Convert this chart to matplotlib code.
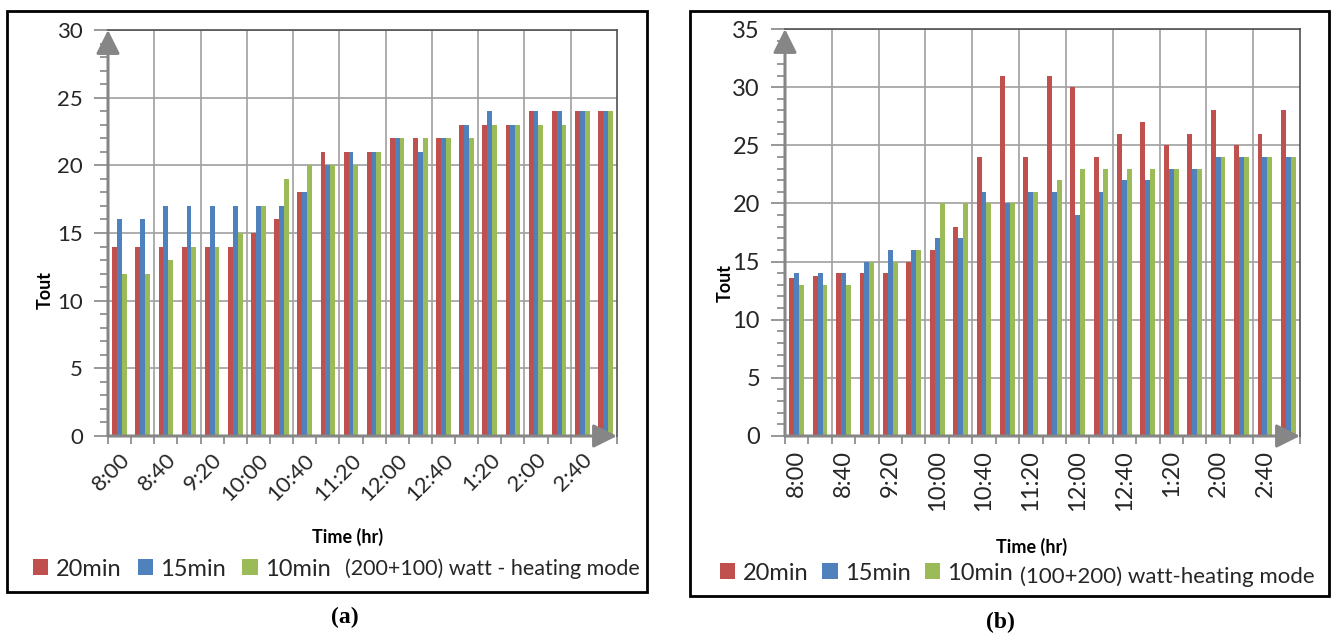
import numpy as np
import matplotlib
matplotlib.use('Agg')
from matplotlib import pyplot as plt
from matplotlib.patches import Rectangle

plt.rcParams['font.family'] = ['Lato', 'DejaVu Sans']

W, H = 1337, 633

times = ['8:00', '8:20', '8:40', '9:00', '9:20', '9:40', '10:00', '10:20',
         '10:40', '11:00', '11:20', '11:40', '12:00', '12:20', '12:40', '1:00',
         '1:20', '1:40', '2:00', '2:20', '2:40', '3:00']
series_names = ['20min', '15min', '10min']
colors = ['#C0504D', '#4F81BD', '#9BBB59']

# (a) (200+100) watt - heating mode
a_20 = [14, 14, 14, 14, 14, 14, 15, 16, 18, 21, 21, 21, 22, 22, 22, 23, 23, 23, 24, 24, 24, 24]
a_15 = [16, 16, 17, 17, 17, 17, 17, 17, 18, 20, 21, 21, 22, 21, 22, 23, 24, 23, 24, 24, 24, 24]
a_10 = [12, 12, 13, 14, 14, 15, 17, 19, 20, 20, 20, 21, 22, 22, 22, 22, 23, 23, 23, 23, 24, 24]

# (b) (100+200) watt-heating mode
b_20 = [13.6, 13.8, 14, 14, 14, 15, 16, 18, 24, 31, 24, 31, 30, 24, 26, 27, 25, 26, 28, 25, 26, 28]
b_15 = [14, 14, 14, 15, 16, 16, 17, 17, 21, 20, 21, 21, 19, 21, 22, 22, 23, 23, 24, 24, 24, 24]
b_10 = [13, 13, 13, 15, 15, 16, 20, 20, 20, 20, 21, 22, 23, 23, 23, 23, 23, 23, 24, 24, 24, 24]

AXIS_GRAY = '#868686'
GRID_GRAY = '#A0A0A0'
TXT = '#262626'


def px_axes(x0, y0, x1, y1):
    return [x0 / W, (H - y1) / H, (x1 - x0) / W, (y1 - y0) / H]


def draw_panel(ax, data, ymax, rot, fs):
    x = np.arange(len(times))
    w = 0.21
    for i, (vals, c, name) in enumerate(zip(data, colors, series_names)):
        ax.bar(x + (i - 1) * w, vals, w, color=c, label=name, zorder=3)
    ax.set_xlim(-0.5, len(times) - 0.5)
    ax.set_ylim(0, ymax)
    ax.set_yticks(np.arange(0, ymax + 1, 5))
    ax.set_yticks(np.arange(0, ymax + 1, 1), minor=True)
    ax.tick_params(axis='y', which='major', length=10, width=1.2, color=AXIS_GRAY,
                   labelsize=fs, labelcolor=TXT, pad=8)
    ax.tick_params(axis='y', which='minor', length=6, width=1.2, color=AXIS_GRAY)
    ax.set_xticks(x[::2])
    if rot == 45:
        ax.set_xticklabels(times[::2], rotation=45, ha='right', va='top',
                           rotation_mode='anchor')
    else:
        ax.set_xticklabels(times[::2], rotation=90, ha='center', va='top')
    ax.set_xticks(np.arange(-0.5, len(times), 1), minor=True)
    ax.tick_params(axis='x', which='major', length=0, labelsize=fs, labelcolor=TXT, pad=10)
    ax.tick_params(axis='x', which='minor', length=6, width=1.2, color=AXIS_GRAY)
    for yv in np.arange(5, ymax + 1, 5):
        ax.axhline(yv, color=GRID_GRAY, lw=1.2, zorder=1)
    for xv in np.arange(1.5, len(times) - 1, 2):
        ax.axvline(xv, color=GRID_GRAY, lw=1.2, zorder=1)
    ax.spines['left'].set_visible(False)
    ax.spines['bottom'].set_visible(False)
    for s in ('top', 'right'):
        ax.spines[s].set_color('#505050')
        ax.spines[s].set_linewidth(1.2)
    arrow = dict(arrowstyle='-|>', color=AXIS_GRAY, lw=2.2, mutation_scale=36,
                 shrinkA=0, shrinkB=0)
    ax.annotate('', xy=(0, 1), xycoords='axes fraction', xytext=(0, 0),
                arrowprops=arrow, zorder=5, annotation_clip=False)
    ax.annotate('', xy=(1, 0), xycoords='axes fraction', xytext=(0, 0),
                arrowprops=arrow, zorder=5, annotation_clip=False)


fig = plt.figure(figsize=(W / 100, H / 100), dpi=100)

# frames round the two panels
fig.patches.append(Rectangle((7 / W, (H - 592) / H), 640 / W, 581 / H, transform=fig.transFigure,
                             fill=False, ec='black', lw=2))
fig.patches.append(Rectangle((690 / W, (H - 596) / H), 639 / W, 585 / H, transform=fig.transFigure,
                             fill=False, ec='black', lw=2))

ax1 = fig.add_axes(px_axes(108, 30, 617, 436))
draw_panel(ax1, [a_20, a_15, a_10], 30, 45, 16)
ax2 = fig.add_axes(px_axes(785, 29, 1300, 436))
draw_panel(ax2, [b_20, b_15, b_10], 35, 90, 17)

panels = [
    (ax1, '(a)', (45, 290), (348, 537), (345, 617), (33, 569), 0.7,
     '(200+100) watt - heating mode', (345, 569), 15.5),
    (ax2, '(b)', (725, 283), (1032, 547), (1000, 622), (720, 573), 0.6,
     '(100+200) watt-heating mode', (1020, 577), 16),
]
for ax, cap, (xl, yl), (xt, yt), (xx, yx), (lx, ly), colsp, note, (nx, ny), nfs in panels:
    fig.text(xl / W, 1 - yl / H, 'Tout', rotation=90, ha='center', va='center',
             fontsize=13, fontweight='bold', color='black')
    fig.text(xt / W, 1 - yt / H, 'Time (hr)', ha='center', va='center',
             fontsize=13, fontweight='bold', color='black')
    fig.text(xx / W, 1 - yx / H, cap, ha='center', va='center',
             fontsize=17, fontweight='bold', family='Liberation Serif')
    ax.legend(loc='center left', bbox_to_anchor=(lx / W, 1 - ly / H),
              bbox_transform=fig.transFigure, ncol=3, frameon=False, fontsize=17,
              handlelength=0.65, handleheight=0.65, handletextpad=0.3,
              columnspacing=colsp, borderpad=0, borderaxespad=0, labelcolor=TXT)
    fig.text(nx / W, 1 - ny / H, note, ha='left', va='center', fontsize=nfs, color=TXT)

fig.savefig('out.png', dpi=100)
